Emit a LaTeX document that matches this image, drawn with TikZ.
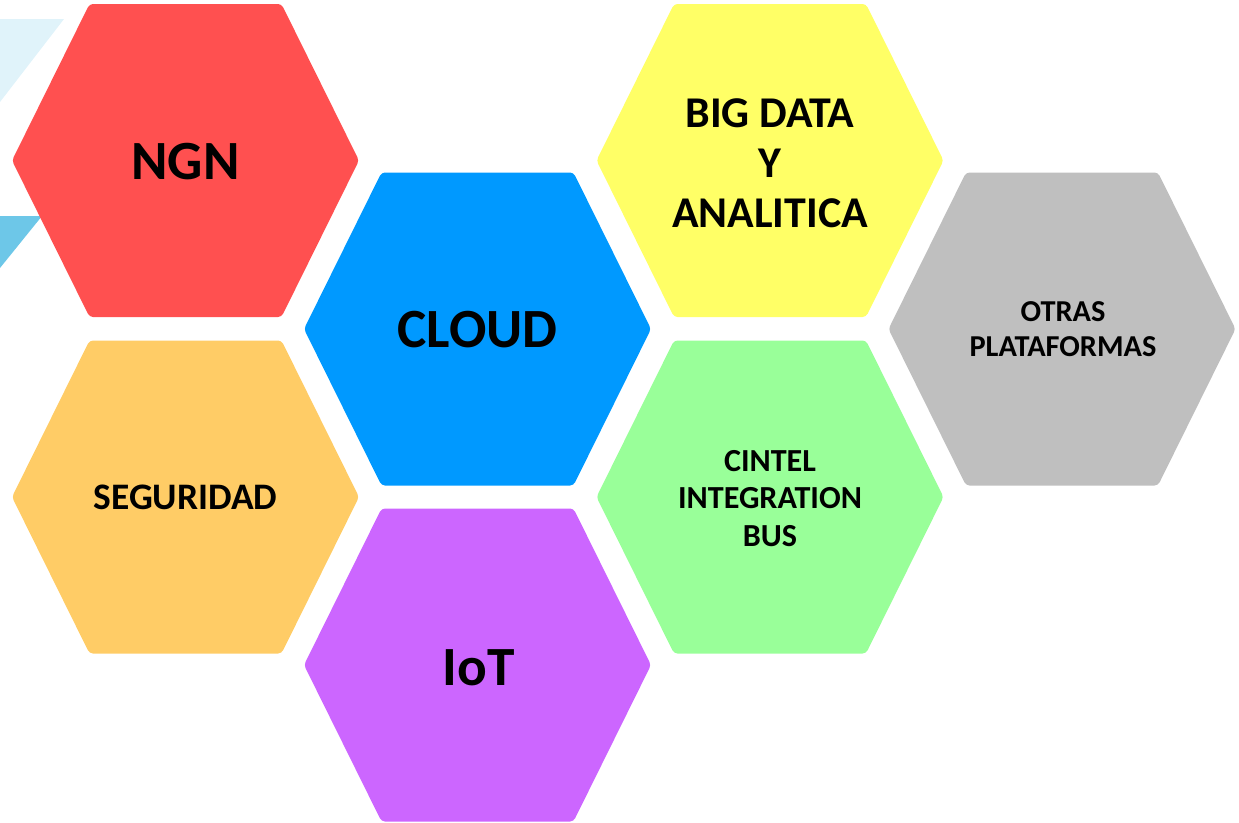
\documentclass[tikz,border=0pt]{standalone}
\usepackage{fontspec}
\setmainfont{Carlito}
\usetikzlibrary{positioning}

\definecolor{hexred}{HTML}{FF5050}
\definecolor{hexblue}{HTML}{0099FF}
\definecolor{hexyellow}{HTML}{FFFF66}
\definecolor{hexgray}{HTML}{BFBFBF}
\definecolor{hexorange}{HTML}{FFCC66}
\definecolor{hexgreen}{HTML}{99FF99}
\definecolor{hexpurple}{HTML}{CC66FF}
\definecolor{paleblue}{HTML}{E0F3FA}
\definecolor{skyblue}{HTML}{6DC7E8}

\tikzset{
  hexlabel/.style={align=center, text=black, inner sep=0pt},
  bigtext/.style={hexlabel, font=\fontsize{31.5}{36}\selectfont\bfseries},
  midtext/.style={hexlabel, font=\fontsize{25}{28.4}\selectfont\bfseries},
  smalltext/.style={hexlabel, font=\fontsize{21.3}{24}\selectfont\bfseries},
  tinytext/.style={hexlabel, font=\fontsize{18.3}{21.2}\selectfont\bfseries},
  tinytextb/.style={hexlabel, font=\fontsize{17.3}{19.8}\selectfont\bfseries},
}

\begin{document}
\begin{tikzpicture}[x=0.02cm, y=-0.02cm]
  \useasboundingbox (0,0) rectangle (1239,822);

  % corner triangles
  \fill[paleblue] (0,19) -- (64,19) -- (0,102) -- cycle;
  \fill[skyblue] (0,216) -- (42,216) -- (0,268) -- cycle;

  % hexagons
  \foreach \cx/\cy/\col in {185.5/160.5/hexred, 477.5/329/hexblue,
      770/160.5/hexyellow, 1062/329/hexgray, 185.5/497/hexorange,
      770/497/hexgreen, 477.5/665/hexpurple}
    \fill[\col, rounded corners=2pt] (\cx-173.5,\cy) -- (\cx-96,\cy-156.5)
      -- (\cx+96,\cy-156.5) -- (\cx+173.5,\cy) -- (\cx+96,\cy+156.5)
      -- (\cx-96,\cy+156.5) -- cycle;

  % labels
  \node[bigtext] (ngn) at (185.5,162) {NGN};
  \node[bigtext] (cloud) at (477.5,330) {CLOUD};
  \node[bigtext] (iot) at (478.5,668) {IoT};
  \node[midtext] (bigdata) at (770,163) {BIG DATA\\Y\\ANALITICA};
  \node[smalltext] (seguridad) at (185.5,497) {SEGURIDAD};
  \node[tinytext] (cintel) at (770,498.5) {CINTEL\\INTEGRATION\\BUS};
  \node[tinytextb] (otras) at (1063,329.5) {OTRAS\\PLATAFORMAS};
\end{tikzpicture}
\end{document}
